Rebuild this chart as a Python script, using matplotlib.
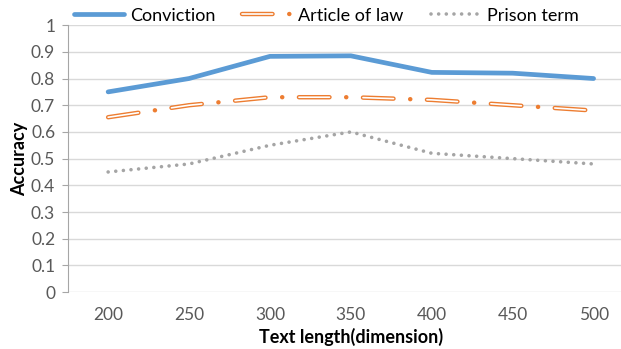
import matplotlib.pyplot as plt
from matplotlib.legend_handler import HandlerTuple
import numpy as np

plt.rcParams['font.family'] = ['Lato', 'DejaVu Sans']
plt.rcParams['lines.scale_dashes'] = False

# Data
lengths = ['200', '250', '300', '350', '400', '450', '500']
conviction = [0.75, 0.80, 0.883, 0.885, 0.823, 0.82, 0.80]
article = [0.655, 0.70, 0.73, 0.73, 0.72, 0.70, 0.68]
prison = [0.45, 0.48, 0.55, 0.60, 0.52, 0.50, 0.48]

x = np.arange(len(lengths))

fig = plt.figure(figsize=(6.21, 3.49), dpi=100)
ax = fig.add_axes([0.109, 0.163, 0.912, 0.765])

conv, = ax.plot(x, conviction, color='#5b9bd5', lw=3.4, solid_capstyle='round')

# article of law: outlined long-dash-dot line (orange outline, white core, solid dots)
art, = ax.plot(x, article, color='#ed7d31', lw=3.2, dashes=(22, 12, 0.1, 12),
               dash_capstyle='round')
art_core, = ax.plot(x, article, color='white', lw=1.2, dashes=(22, 24.1), dash_capstyle='round')

pris, = ax.plot(x, prison, color='#a5a5a5', lw=2.6, dashes=(0.01, 5.5), dash_capstyle='round')

ax.set_xlim(-0.5, len(lengths) - 0.5)
ax.set_ylim(0, 1)
ax.set_xticks(x)
ax.set_xticklabels(lengths)
ax.set_yticks(np.arange(0, 1.01, 0.1))
ax.set_yticklabels(['0', '0.1', '0.2', '0.3', '0.4', '0.5', '0.6', '0.7', '0.8', '0.9', '1'])

ax.grid(axis='y', color='#d9d9d9', lw=1)
ax.set_axisbelow(True)
for s in ['top', 'right', 'bottom']:
    ax.spines[s].set_visible(False)
ax.spines['left'].set_color('#a6a6a6')
ax.tick_params(axis='y', colors='#a6a6a6', labelcolor='#595959', labelsize=12.5, length=4, pad=5)
ax.tick_params(axis='x', length=0, labelcolor='#595959', labelsize=12.5, pad=11)

ax.set_xlabel('Text length(dimension)', fontsize=13, fontweight='bold', labelpad=3)
ax.set_ylabel('Accuracy', fontsize=13, fontweight='bold', labelpad=2)

fig.legend([conv, (art, art_core), pris], ['Conviction', 'Article of law', 'Prison term'],
           handler_map={tuple: HandlerTuple(ndivide=1)},
           loc='upper center', bbox_to_anchor=(0.525, 1.025), ncol=3, frameon=False,
           fontsize=13, handlelength=2.8, columnspacing=1.5, handletextpad=0.3)

fig.savefig('out.png', dpi=100)
